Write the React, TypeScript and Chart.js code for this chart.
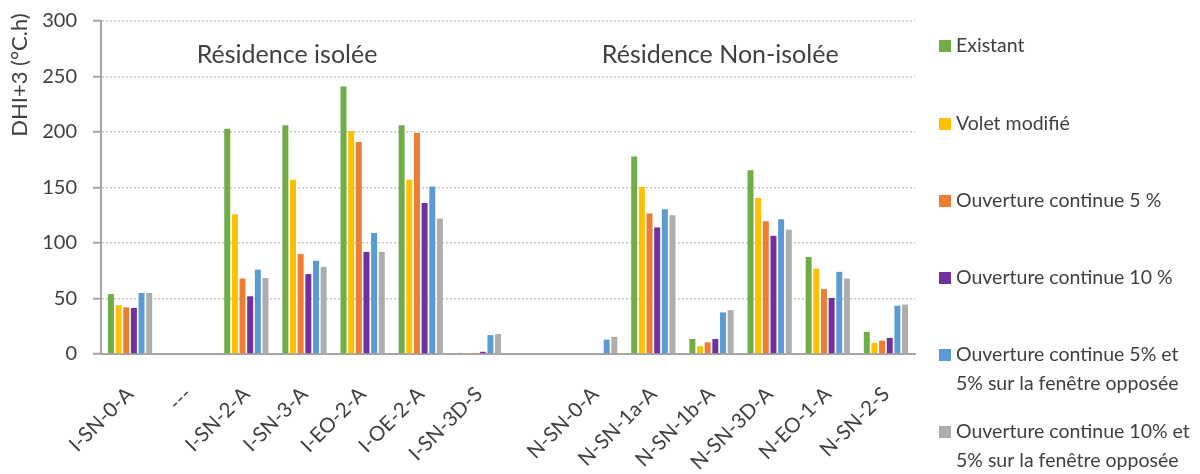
import React, { useEffect, useRef } from "react";
import { Chart, registerables } from "chart.js";

Chart.register(...registerables);

const categories = [
  "I-SN-0-A", "---", "I-SN-2-A", "I-SN-3-A", "I-EO-2-A", "I-OE-2-A", "I-SN-3D-S",
  "", "N-SN-0-A", "N-SN-1a-A", "N-SN-1b-A", "N-SN-3D-A", "N-EO-1-A", "N-SN-2-S",
];

const existant = [54, null, 203, 206, 241, 206, 1, null, null, 178, 13.5, 165.5, 87.5, 20];
const voletModifie = [44, null, 126, 157, 201, 157, 0.5, null, null, 150.5, 7, 140.5, 77, 10];
const ouverture5 = [42, null, 68, 90, 191, 199, 1, null, null, 126.5, 10.5, 119.5, 58.5, 12];
const ouverture10 = [41.5, null, 52, 72, 92, 136, 2, null, null, 114, 13.5, 106.5, 50.5, 14.5];
const ouverture5Opp = [55, null, 76, 84, 109, 151, 17, null, 13, 130.5, 37.5, 121.5, 74, 43.5];
const ouverture10Opp = [55, null, 68.5, 78.5, 92, 122, 18, null, 15.5, 125, 39.5, 112, 68, 44.5];

const seriesLabels = [
  ["Existant"],
  ["Volet modifié"],
  ["Ouverture continue 5 %"],
  ["Ouverture continue 10 %"],
  ["Ouverture continue 5% et", "5% sur la fenêtre opposée"],
  ["Ouverture continue 10% et", "5% sur la fenêtre opposée"],
];
const seriesColors = ["#70AD47", "#FFC000", "#ED7D31", "#7030A0", "#5B9BD5", "#ADADAD"];
const seriesData = [existant, voletModifie, ouverture5, ouverture10, ouverture5Opp, ouverture10Opp];

const groupLabels = ["Résidence isolée", "Résidence Non-isolée"];
const groupLabelIndex = [2.7, 10.15];
const groupLabelValue = 269;

const yTitle = "DHI+3 (°C.h)";
const yTicks = [0, 50, 100, 150, 200, 250, 300];

const FONT = "Lato, 'Open Sans', sans-serif";
const TEXT = "#404040";

const extrasPlugin = {
  id: "extras",
  afterDraw(chart: any) {
    const ctx = chart.ctx;
    const xs = chart.scales.x;
    const ys = chart.scales.y;
    ctx.save();
    ctx.fillStyle = TEXT;
    ctx.font = `25px ${FONT}`;
    ctx.textAlign = "center";
    ctx.textBaseline = "middle";
    groupLabels.forEach((t, i) => {
      ctx.fillText(t, xs.getPixelForValue(groupLabelIndex[i]), ys.getPixelForValue(groupLabelValue));
    });
    ctx.save();
    ctx.translate(20, 75);
    ctx.rotate(-Math.PI / 2);
    ctx.font = `22px ${FONT}`;
    ctx.textAlign = "center";
    ctx.textBaseline = "middle";
    ctx.fillText(yTitle, 0, 0);
    ctx.restore();
    const ys0 = [46, 124, 201, 278, 355, 432];
    ctx.font = `19.5px ${FONT}`;
    ctx.textAlign = "left";
    ctx.textBaseline = "middle";
    seriesLabels.forEach((lines, i) => {
      const cy = ys0[i];
      ctx.fillStyle = seriesColors[i];
      ctx.fillRect(939, cy - 6, 12, 12);
      ctx.fillStyle = TEXT;
      lines.forEach((ln, j) => ctx.fillText(ln, 956, cy + j * 29));
    });
    ctx.restore();
  },
};

export default function App() {
  const ref = useRef<HTMLCanvasElement | null>(null);
  useEffect(() => {
    document.body.style.margin = "0";
    const chart = new Chart(ref.current as HTMLCanvasElement, {
      type: "bar",
      data: {
        labels: categories,
        datasets: seriesData.map((d, i) => ({
          label: seriesLabels[i].join(" "),
          data: d as any,
          backgroundColor: seriesColors[i],
          borderWidth: 0,
          categoryPercentage: 0.79,
          barPercentage: 0.78,
        })),
      },
      options: {
        animation: false,
        responsive: false,
        layout: { padding: { left: 0, top: 21, right: 285, bottom: 0 } },
        plugins: { legend: { display: false }, tooltip: { enabled: false } },
        scales: {
          x: {
            grid: { display: false },
            border: { display: true, color: "#A6A6A6", width: 2 },
            ticks: {
              color: TEXT,
              font: { family: FONT, size: 20.5 },
              maxRotation: 45,
              minRotation: 45,
              autoSkip: false,
              padding: 20,
            },
            afterFit: (s: any) => { s.height = 120; s.paddingLeft = 0; s.paddingRight = 0; },
          },
          y: {
            min: 0,
            max: 300,
            afterBuildTicks: (s: any) => { s.ticks = yTicks.map((v) => ({ value: v })); },
            grid: {
              color: (c: any) => (c.tick && c.tick.value === 0 ? "rgba(0,0,0,0)" : "#C8C8C8"),
              lineWidth: 1.5,
              drawTicks: true,
              tickColor: "#A6A6A6",
              tickLength: 8,
              tickWidth: 2,
              tickBorderDash: [],
            },
            border: { display: true, color: "#A6A6A6", width: 2, dash: [2, 2] },
            ticks: {
              color: TEXT,
              font: { family: FONT, size: 20 },
              padding: 16,
            },
            afterFit: (s: any) => { s.width = 101; s.paddingTop = 0; s.paddingBottom = 0; },
          },
        },
      },
      plugins: [extrasPlugin],
    });
    return () => chart.destroy();
  }, []);
  return (
    <div style={{ width: 1200, height: 474 }}>
      <canvas ref={ref} width={1200} height={474} style={{ display: "block" }} />
    </div>
  );
}
